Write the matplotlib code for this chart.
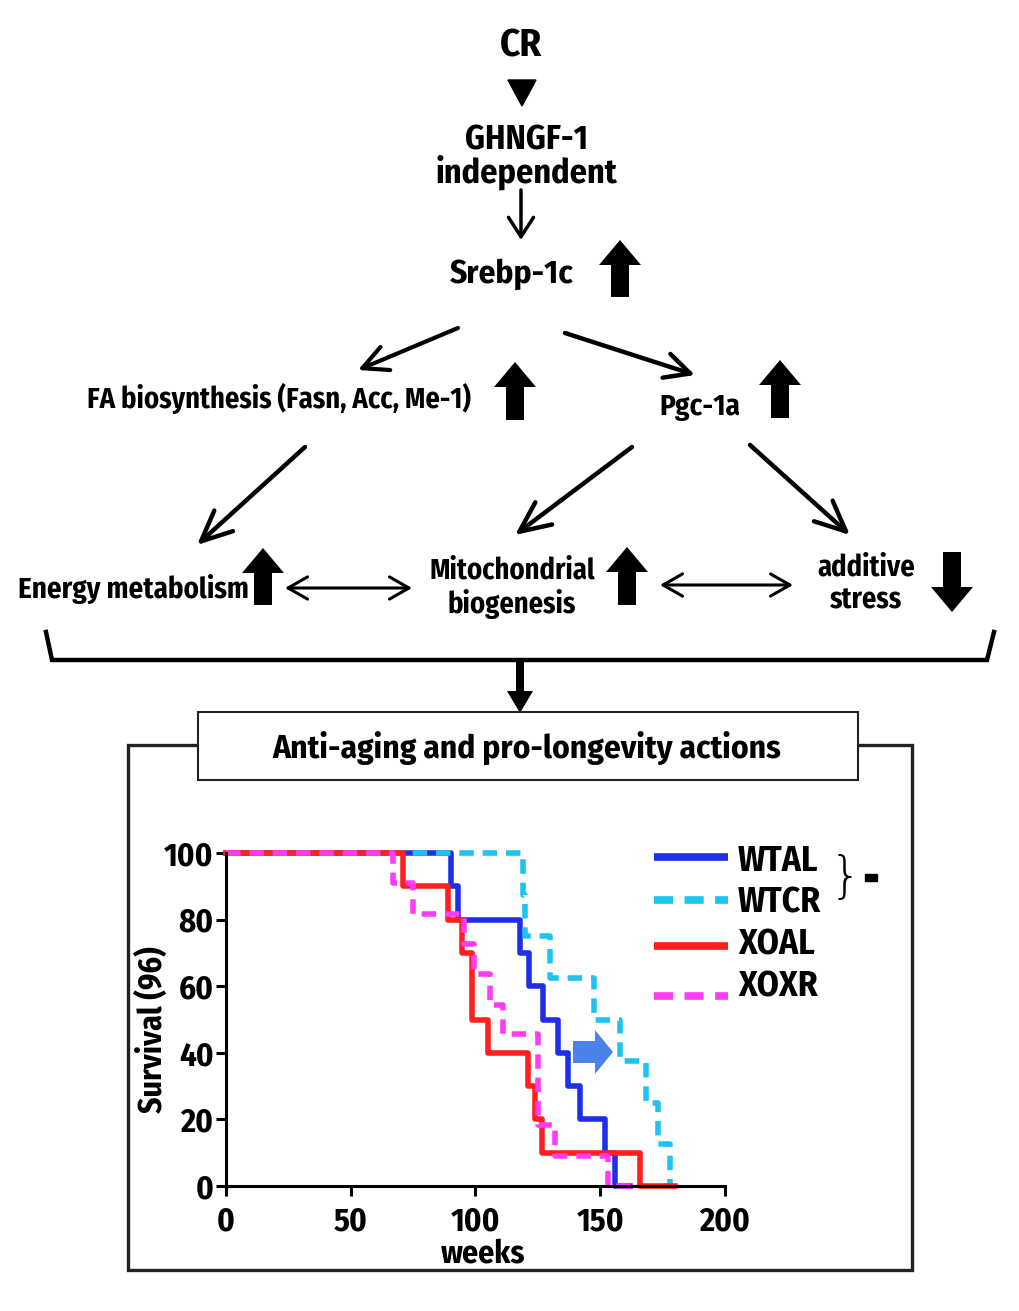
import numpy as np
import matplotlib.pyplot as plt
from matplotlib.patches import FancyArrow, FancyArrowPatch, Polygon, Rectangle

# survival data (weeks, % surviving)
WTAL_T = [0, 90, 93, 118, 121.5, 127, 133, 137, 142, 152, 156, 162]
WTAL_S = [100, 90, 80, 70, 60, 50, 40, 30, 20, 10, 0, 0]
WTCR_T = [0, 119, 120, 130, 147.5, 158, 168.5, 173, 178, 178]
WTCR_S = [100, 87.5, 75, 62.5, 50, 37.5, 25, 12.5, 0, 0]
XOAL_T = [0, 71, 89, 94.5, 98.5, 105, 121, 124, 126.5, 166, 180]
XOAL_S = [100, 90, 80, 70, 50, 40, 30, 20, 10, 0, 0]
XOXR_T = [0, 67, 75, 95.5, 99.5, 106, 111, 125, 132, 153, 164]
XOXR_S = [100, 90.9, 81.8, 72.7, 63.6, 54.5, 45.5, 18.2, 9.1, 0, 0]

names = ['WTAL', 'WTCR', 'XOAL', 'XOXR']
colors = ['#1f2fe8', '#1ec3f0', '#ff1f1f', '#ff3cf5']
styles = ['-', '--', '-', '--']
xticks = [0, 50, 100, 150, 200]
yticks = [0, 20, 40, 60, 80, 100]

plt.rcParams['font.family'] = ['Fira Sans Condensed', 'DejaVu Sans']
plt.rcParams['font.weight'] = 'bold'

fig = plt.figure(figsize=(10.2, 13.11), dpi=100)

# diagram layer in pixel coordinates
ax0 = fig.add_axes([0, 0, 1, 1])
ax0.set_xlim(0, 1020)
ax0.set_ylim(1311, 0)
ax0.axis('off')


def txt(x, y, s, size, **kw):
    ax0.text(x, y, s, fontsize=size, fontweight='bold', ha='center', va='center', **kw)


def block(x, y0, y1, w=18, hw=42, hl=25):
    ax0.add_patch(FancyArrow(x, y0, 0, y1 - y0, width=w, head_width=hw, head_length=hl,
                             length_includes_head=True, fc='k', ec='k', lw=0))


def line_arrow(p0, p1, style='->', lw=3, hl=14, hw=8):
    ax0.add_patch(FancyArrowPatch(p0, p1, arrowstyle=f'{style},head_length={hl},head_width={hw}',
                                  mutation_scale=1, lw=lw, color='k', shrinkA=0, shrinkB=0))


txt(521, 46, 'CR', 28)
ax0.add_patch(Polygon([(508, 80), (536, 80), (522, 106)], closed=True, fc='k', ec='k'))
txt(527, 140, 'GHNGF-1', 24.5)
txt(527, 172, 'independent', 24.5)
line_arrow((521, 190), (521, 240), lw=2.5, hl=14, hw=9)
txt(512, 274, 'Srebp-1c', 24)
block(620, 297, 240)

line_arrow((458, 328), (358, 370), lw=3, hl=18, hw=9)
line_arrow((565, 333), (695, 375), lw=3.2, hl=18, hw=9)
txt(279, 399, 'FA biosynthesis (Fasn, Acc, Me-1)', 20.5)
block(515, 420, 362)
txt(700, 407, 'Pgc-1a', 21)
block(780, 418, 360)

line_arrow((305, 447), (197, 545), lw=3.2, hl=22, hw=10)
line_arrow((632, 447), (515, 535), lw=3.2, hl=22, hw=10)
line_arrow((750, 445), (850, 535), lw=3.2, hl=22, hw=10)

txt(133, 589, 'Energy metabolism', 20.8)
block(263, 605, 548)
line_arrow((285, 588), (412, 588), style='<->', lw=2.2, hl=14, hw=8)
txt(512, 571, 'Mitochondrial', 20.5)
txt(512, 604, 'biogenesis', 20.5)
block(627, 605, 547)
line_arrow((660, 585), (793, 585), style='<->', lw=2.2, hl=14, hw=8)
txt(866, 568, 'additive', 20.5)
txt(866, 601, 'stress', 20.5)
block(952, 552, 612)

ax0.plot([46, 52, 987, 994], [632, 660, 660, 632], color='k', lw=3.2, solid_joinstyle='miter')
block(520, 662, 713, w=8, hw=26, hl=22)

ax0.add_patch(Rectangle((128, 745), 784, 525, fill=False, ec='#222222', lw=2.4))
ax0.add_patch(Rectangle((198, 712), 660, 68, fc='white', ec='#222222', lw=1.5, zorder=3))
txt(527, 748, 'Anti-aging and pro-longevity actions', 24, zorder=4)

# legend (drawn by hand, pixel coordinates)
leg_y = [857, 900, 946, 996]
txt_y = [861, 903, 945, 987]
for n, c, ls, ly, ty in zip(names, colors, styles, leg_y, txt_y):
    ax0.plot([654, 728], [ly, ly], color=c, lw=5.5, linestyle=ls,
             dashes=(2.5, 1.5) if ls == '--' else (None, None), solid_capstyle='butt')
    ax0.text(738, ty, n, fontsize=25.5, fontweight='bold', ha='left', va='center')
ax0.text(845, 878, '}', fontsize=36, fontweight='light', ha='center', va='center',
         family='DejaVu Sans')
ax0.add_patch(Rectangle((865, 874), 12, 7, fc='k', ec='k'))

# blue shift arrow
ax0.add_patch(FancyArrow(573, 1052, 40, 0, width=22, head_width=44, head_length=18,
                         length_includes_head=True, fc='#4a82ea', ec='#4a82ea', lw=0))

# survival plot
ax = fig.add_axes([226 / 1020, 1 - 1186 / 1311, 499 / 1020, 333 / 1311])
ax.set_facecolor('none')
curves = [(WTAL_T, WTAL_S), (WTCR_T, WTCR_S), (XOAL_T, XOAL_S), (XOXR_T, XOXR_S)]
for (t, s), c, ls in zip(curves, colors, styles):
    kw = dict(dashes=(2.6, 1.6)) if ls == '--' else {}
    ax.step(t, s, where='post', color=c, lw=4.0, clip_on=False, **kw)

ax.set_xlim(0, 200)
ax.set_ylim(0, 100)
ax.set_xticks(xticks)
ax.set_yticks(yticks)
for sp in ['top', 'right']:
    ax.spines[sp].set_visible(False)
for sp in ['left', 'bottom']:
    ax.spines[sp].set_linewidth(2.2)
ax.tick_params(axis='x', length=7, width=2.2, pad=7, labelsize=23.5)
ax.tick_params(axis='y', length=7, width=2.2, pad=2, labelsize=23.5)
for lb in ax.get_xticklabels() + ax.get_yticklabels():
    lb.set_fontweight('bold')
ax.set_xlabel('weeks', fontsize=23, fontweight='bold')
ax.set_ylabel('Survival (96)', fontsize=23, fontweight='bold')
ax.xaxis.set_label_coords(0.515, -0.155)
ax.yaxis.set_label_coords(-0.115, 0.47)

fig.savefig('out.png', dpi=100)
